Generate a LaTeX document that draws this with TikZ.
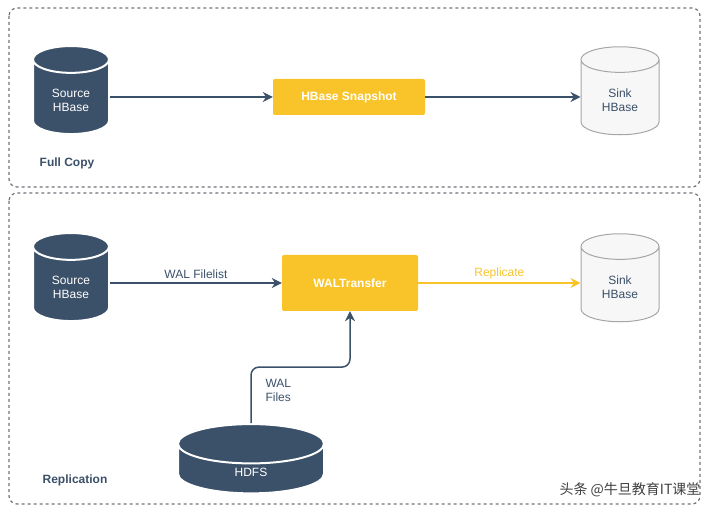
\documentclass[tikz,border=0pt]{standalone}
\usepackage{fontspec}
\setmainfont{Liberation Sans}
\newfontfamily\cjk{Noto Sans CJK SC}
\usetikzlibrary{arrows.meta,positioning,shapes.geometric}
\definecolor{navy}{HTML}{3B5069}
\definecolor{gold}{HTML}{F8C42A}
\definecolor{frame}{HTML}{6E737A}
\begin{document}
\begin{tikzpicture}[x=1pt,y=-1pt,font=\fontsize{12}{14}\selectfont,
    dbdark/.style={cylinder, shape border rotate=90, aspect=0.6, draw=white, line width=2pt,
      fill=navy, text=white, align=center},
    dblight/.style={cylinder, shape border rotate=90, aspect=0.6, draw=gray!70, line width=1pt,
      fill=gray!6, text=navy, align=center},
    task/.style={rectangle, rounded corners=2pt, fill=gold, text=white, font=\fontsize{12}{14}\selectfont\bfseries},
    flow/.style={-{Stealth[length=10pt,width=10pt]}, line width=1.5pt, navy},
    zone/.style={draw=frame, dashed, line width=1.2pt, rounded corners=8pt}]
    \useasboundingbox (0,0) rectangle (707,510);

    \draw[zone] (9,8) rectangle (700,187);
    \draw[zone] (9,193) rectangle (700,504);

    % full copy
    \node[dbdark, minimum width=76pt, minimum height=88pt] (src1) at (71,100) {Source\\HBase};
    \node[task, minimum width=152pt, minimum height=36pt] (snap) at (349,97) {HBase Snapshot};
    \node[dblight, minimum width=78pt, minimum height=88pt] (sink1) at (620,100) {Sink\\HBase};
    \node[navy, font=\fontsize{12}{14}\selectfont\bfseries] (full) at (67,163) {Full Copy};

    \draw[flow] (src1.east |- snap) -- (snap);
    \draw[flow] (snap) -- (snap -| sink1.west);

    % replication
    \node[dbdark, minimum width=76pt, minimum height=88pt] (src2) at (71,287) {Source\\HBase};
    \node[task, minimum width=136pt, minimum height=56pt] (wal) at (350,283) {WALTransfer};
    \node[dblight, minimum width=78pt, minimum height=88pt] (sink2) at (620,287) {Sink\\HBase};
    \node[dbdark, minimum width=146pt, minimum height=68pt, aspect=1] (hdfs) at (251,472) {HDFS};
    \node[navy, font=\fontsize{12}{14}\selectfont\bfseries] (repl) at (75,480) {Replication};

    \draw[flow] (src2.east |- wal) -- node[above, navy] {WAL Filelist} (wal);
    \draw[-{Stealth[length=10pt,width=10pt]}, line width=1.5pt, gold] (wal) -- node[above] {Replicate} (wal -| sink2.west);
    \draw[flow, rounded corners=8pt] (hdfs.north) -- ++(0,-56) -| (wal.south);
    \node[navy, align=left, anchor=west] (walfiles) at (262,390) {WAL\\Files};

    \node[font=\cjk\fontsize{14}{16}\selectfont, text=black!75, anchor=east] (mark) at (704,490) {头条 @牛旦教育IT课堂};
\end{tikzpicture}
\end{document}
